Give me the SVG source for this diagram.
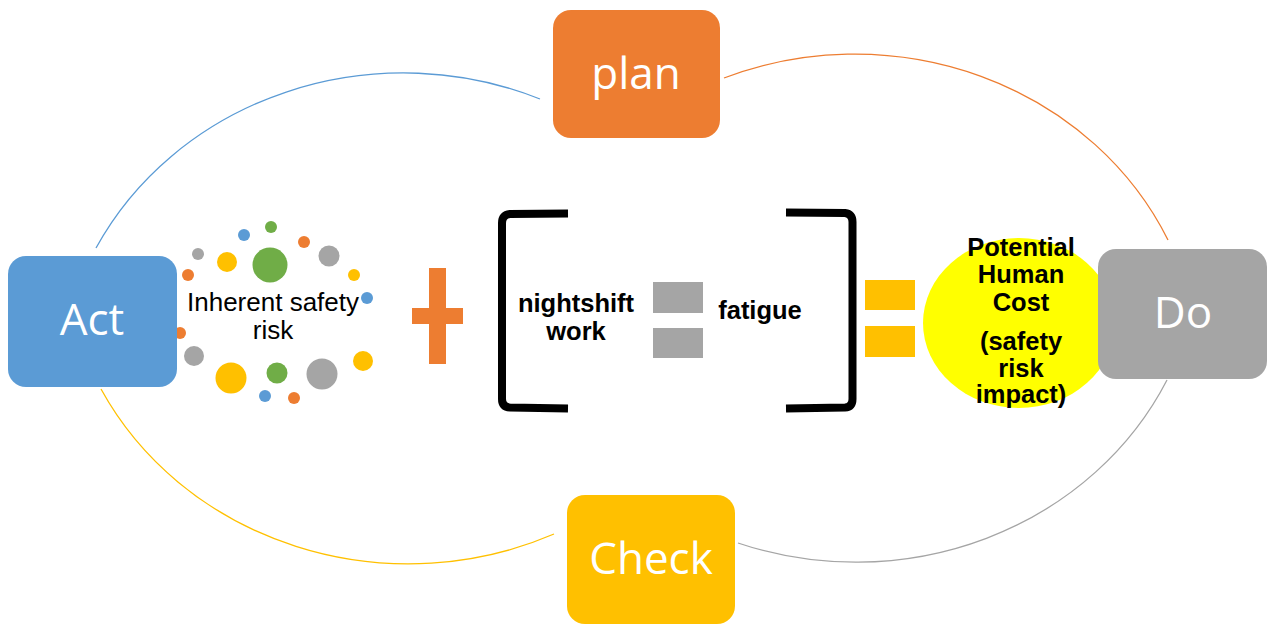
<svg xmlns="http://www.w3.org/2000/svg" width="1269" height="624" viewBox="0 0 1269 624">
  <style>
    .node-label { font-family: "Open Sans", "Liberation Sans", sans-serif; font-size: 44px; fill: #ffffff; text-anchor: middle; }
    .risk-label { font-family: "Liberation Sans", Arial, sans-serif; font-size: 26px; fill: #000000; text-anchor: middle; }
    .bold-label { font-family: "Liberation Sans", Arial, sans-serif; font-size: 25.5px; font-weight: bold; fill: #000000; text-anchor: middle; }
    .cycle { fill: none; stroke-width: 1.3; }
    .bracket { fill: none; stroke: #000000; stroke-width: 8; stroke-linejoin: round; }
    .blue { fill: #5B9BD5; }
    .orange { fill: #ED7D31; }
    .gold { fill: #FFC000; }
    .grey { fill: #A5A5A5; }
    .green { fill: #70AD47; }
  </style>

  <rect width="1269" height="624" fill="#ffffff"/>

  <!-- PDCA cycle arcs -->
  <g id="connectors">
    <path class="cycle" stroke="#5B9BD5" d="M 96 248 A 345 320 0 0 1 540 99"/>
    <path class="cycle" stroke="#ED7D31" d="M 724 78 A 345 320 0 0 1 1168 240"/>
    <path class="cycle" stroke="#A5A5A5" d="M 1167 380 A 345 320 0 0 1 738 543"/>
    <path class="cycle" stroke="#FFC000" d="M 554 534 A 345 320 0 0 1 101 389"/>
  </g>

  <!-- ring of dots around the inherent risk label -->
  <g id="inherent-risk">
    <circle class="green" cx="271" cy="227" r="6"/>
    <circle class="blue" cx="244" cy="235" r="6"/>
    <circle class="orange" cx="304" cy="242" r="6"/>
    <circle class="grey" cx="198" cy="254" r="6"/>
    <circle class="gold" cx="227" cy="262" r="10"/>
    <circle class="green" cx="270" cy="265" r="17.5"/>
    <circle class="grey" cx="329" cy="256" r="10.5"/>
    <circle class="orange" cx="188" cy="275" r="6"/>
    <circle class="gold" cx="354" cy="275" r="6"/>
    <circle class="blue" cx="367" cy="298" r="6"/>
    <circle class="orange" cx="180" cy="333" r="6"/>
    <circle class="grey" cx="194" cy="356" r="10"/>
    <circle class="gold" cx="363" cy="361" r="10"/>
    <circle class="gold" cx="231" cy="378" r="15.5"/>
    <circle class="green" cx="277" cy="373" r="10.5"/>
    <circle class="grey" cx="322" cy="374" r="15.5"/>
    <circle class="blue" cx="265" cy="396" r="6"/>
    <circle class="orange" cx="294" cy="398" r="6"/>
    <text class="risk-label" x="273" y="311">Inherent safety</text>
    <text class="risk-label" x="273" y="339">risk</text>
  </g>

  <!-- plus sign -->
  <g id="plus">
    <rect class="orange" x="429" y="268" width="17" height="96"/>
    <rect class="orange" x="412" y="308" width="51" height="16"/>
  </g>

  <!-- bracketed term -->
  <g id="fatigue-term">
    <path class="bracket" d="M 568 213.5 L 510 214 Q 502 215 502 223 L 502 399 Q 502 407 510 407.5 L 568 408.5"/>
    <path class="bracket" d="M 786 212.5 L 845 213 Q 852.5 214 852.5 222 L 852.5 399 Q 852.5 407 845 407.5 L 786 408.5"/>
    <text class="bold-label" x="576" y="312">nightshift</text>
    <text class="bold-label" x="576" y="340">work</text>
    <rect class="grey" x="653" y="282" width="50" height="31"/>
    <rect class="grey" x="653" y="328" width="50" height="30"/>
    <text class="bold-label" x="760" y="319">fatigue</text>
  </g>

  <!-- equals sign -->
  <g id="equals">
    <rect class="gold" x="865" y="280" width="50" height="30"/>
    <rect class="gold" x="865" y="326" width="50" height="31"/>
  </g>

  <!-- outcome -->
  <g id="human-cost">
    <ellipse cx="1019" cy="323" rx="96" ry="85" fill="#FFFF00"/>
  </g>

  <!-- PDCA nodes -->
  <g id="plan">
    <rect class="orange" x="553" y="10" width="167" height="128" rx="18"/>
    <text class="node-label" x="636" y="89">plan</text>
  </g>
  <g id="do">
    <rect class="grey" x="1098" y="249" width="169" height="130" rx="18"/>
    <text class="node-label" x="1183" y="328">Do</text>
  </g>
  <g id="check">
    <rect class="gold" x="567" y="495" width="168" height="129" rx="18"/>
    <text class="node-label" x="651" y="574">Check</text>
  </g>
  <g id="act">
    <rect class="blue" x="8" y="256" width="169" height="131" rx="18"/>
    <text class="node-label" x="92" y="335">Act</text>
  </g>

  <g id="human-cost-label">
    <text class="bold-label" x="1021" y="256">Potential</text>
    <text class="bold-label" x="1021" y="283">Human</text>
    <text class="bold-label" x="1021" y="311">Cost</text>
    <text class="bold-label" x="1021" y="350">(safety</text>
    <text class="bold-label" x="1021" y="377">risk</text>
    <text class="bold-label" x="1021" y="403">impact)</text>
  </g>
</svg>
